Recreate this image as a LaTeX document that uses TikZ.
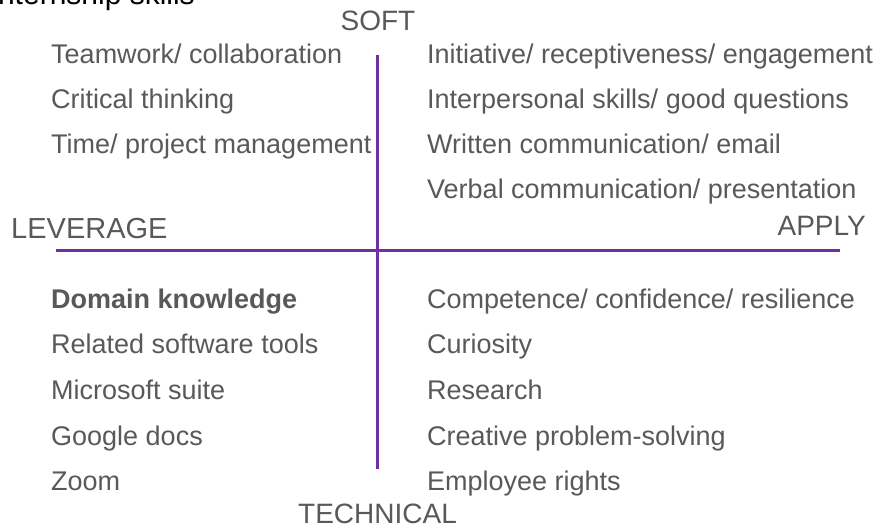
\documentclass[tikz,border=0pt]{standalone}
\usepackage{fontspec}
\setmainfont{Liberation Sans}
\usepackage{tikz}

\definecolor{axispurple}{RGB}{112,48,160}
\definecolor{textgray}{RGB}{89,89,89}

\tikzset{
  skill/.style={anchor=base west, inner sep=0pt, text=textgray,
    font=\fontsize{27}{30}\selectfont},
  axislabel/.style={inner sep=0pt, text=textgray,
    font=\fontsize{28}{30}\selectfont},
  axisline/.style={axispurple, line width=2.6pt}
}

\begin{document}
\begin{tikzpicture}[x=1pt, y=-1pt]
            % Frame
            \useasboundingbox (0,0) rectangle (877,528);
            \clip (0,0) rectangle (877,528);
            \fill[white] (0,0) rectangle (877,528);

            % Title (cut off at the top)
            \node[anchor=base east, inner sep=0pt, font=\fontsize{30}{34}\selectfont] (title) at (195,4.5) {Internship skills};

            % Axes
            \coordinate (top) at (377.5,55);
            \coordinate (bottom) at (377.5,469);
            \coordinate (left) at (56,250.5);
            \coordinate (right) at (840,250.5);
            \draw[axisline] (top) -- (bottom);
            \draw[axisline] (left) -- (right);

            % Axis labels
            \node[axislabel, anchor=base] (soft) at (378,30) {SOFT};
            \node[axislabel, anchor=base] (technical) at (377.5,523) {TECHNICAL};
            \node[axislabel, anchor=base west, font=\fontsize{29}{30}\selectfont] (leverage) at (11,238) {LEVERAGE};
            \node[axislabel, anchor=base east] (apply) at (866,235) {APPLY};

            % Soft / leverage
            \node[skill] (teamwork) at (51,63) {Teamwork/ collaboration};
            \node[skill] (critical) at (51,108) {Critical thinking};
            \node[skill] (time) at (51,153) {Time/ project management};

            % Soft / apply
            \node[skill] (initiative) at (427,63) {Initiative/ receptiveness/ engagement};
            \node[skill] (interpersonal) at (427,108) {Interpersonal skills/ good questions};
            \node[skill] (written) at (427,153) {Written communication/ email};
            \node[skill] (verbal) at (427,198) {Verbal communication/ presentation};

            % Technical / leverage
            \node[skill, font=\fontsize{27}{30}\selectfont\bfseries] (domain) at (51,308) {Domain knowledge};
            \node[skill] (software) at (51,353) {Related software tools};
            \node[skill] (microsoft) at (51,399) {Microsoft suite};
            \node[skill] (google) at (51,445) {Google docs};
            \node[skill] (zoom) at (51,490) {Zoom};

            % Technical / apply
            \node[skill] (competence) at (427,308) {Competence/ confidence/ resilience};
            \node[skill] (curiosity) at (427,353) {Curiosity};
            \node[skill] (research) at (427,399) {Research};
            \node[skill] (creative) at (427,445) {Creative problem-solving};
            \node[skill] (rights) at (427,490) {Employee rights};
        \end{tikzpicture}
\end{document}
